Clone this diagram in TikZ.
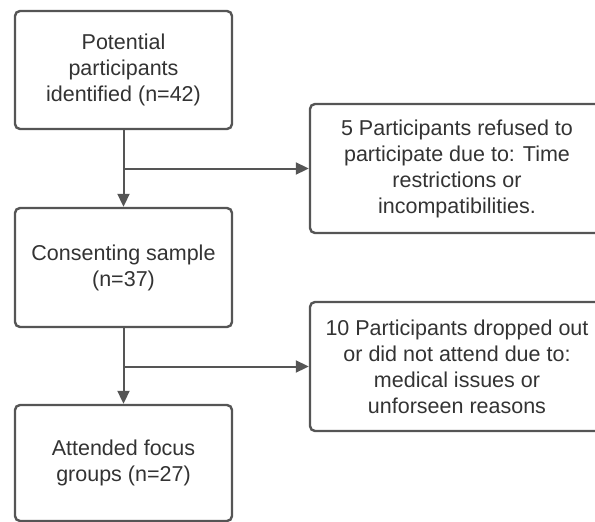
\documentclass[tikz,border=0pt]{standalone}
\usepackage{fontspec}
\setmainfont{Liberation Sans}
\usetikzlibrary{arrows.meta}
\definecolor{edgegray}{HTML}{555555}
\definecolor{txtgray}{HTML}{333333}
\begin{document}
\begin{tikzpicture}[x=1pt,y=-1pt,
  flowbox/.style={draw=edgegray, line width=2.4pt, rounded corners=5pt, align=center,
    inner sep=0pt, text=txtgray, font=\fontsize{21.5}{26}\selectfont, fill=white},
  conn/.style={draw=edgegray, line width=2pt},
  arr/.style={conn, -{Triangle[length=13pt,width=12pt]}}]
\useasboundingbox (0,0) rectangle (595,522);
\clip (0,0) rectangle (595,522);
\node[flowbox, minimum width=217pt, minimum height=118pt] (b1) at (123.5,70)
  {Potential\\participants\\identified (n=42)};
\node[flowbox, minimum width=217pt, minimum height=119pt] (b2) at (123.5,267.5)
  {Consenting sample\\(n=37)};
\node[flowbox, minimum width=217pt, minimum height=116pt] (b3) at (123.5,463)
  {Attended focus\\groups (n=27)};
\node[flowbox, minimum width=294pt, minimum height=129pt] (r1) at (457,168.5)
  {5 Participants refused to\\participate due to: Time\\restrictions or\\incompatibilities.};
\node[flowbox, minimum width=294pt, minimum height=129pt] (r2) at (457,366.5)
  {10 Participants dropped out\\or did not attend due to:\\medical issues or\\unforseen reasons};
\coordinate (j1) at (b1.south |- r1.west);
\coordinate (j2) at (b2.south |- r2.west);
\draw[arr] (b1.south) -- (b2.north);
\draw[arr] (j1) -- (r1.west);
\draw[arr] (b2.south) -- (b3.north);
\draw[arr] (j2) -- (r2.west);
\end{tikzpicture}
\end{document}
